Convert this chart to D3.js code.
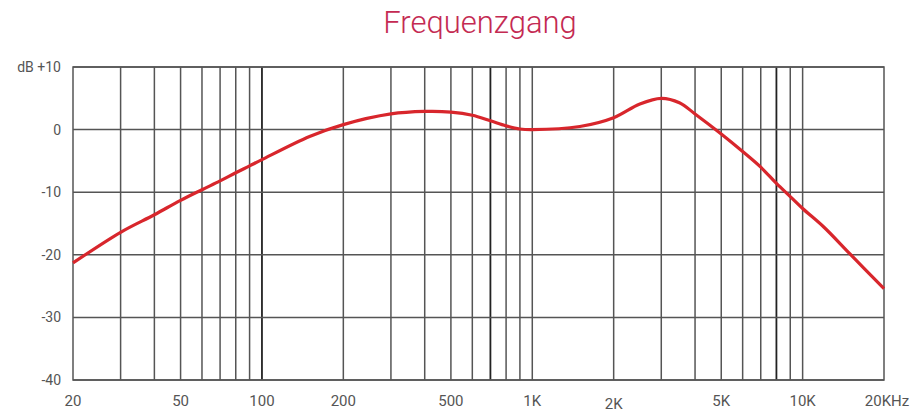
<!DOCTYPE html>
<html>
<head>
<meta charset="utf-8">
<script src="https://cdn.jsdelivr.net/npm/d3@7"></script>
<style>
  body { margin: 0; background: #fff; }
  svg { display: block; }
</style>
</head>
<body>
<div id="chart"></div>
<script>
// frequency response
var freqs = [20, 30, 40, 50, 60, 70, 80, 90, 100, 150, 200, 300, 400, 500, 600, 700, 800, 900, 1000,
  1500, 2000, 2500, 3000, 3500, 4000, 5000, 6000, 7000, 8000, 9000, 10000, 12000, 15000, 20000];
var gains = [-21.3, -16.4, -13.6, -11.3, -9.6, -8.2, -6.9, -5.8, -4.8, -1.1, 0.8, 2.5, 2.9, 2.8, 2.3, 1.4, 0.6, 0.1, 0,
  0.5, 1.9, 4.1, 5.0, 4.3, 2.5, -0.7, -3.5, -6.0, -8.6, -10.7, -12.6, -15.6, -19.9, -25.4];

var gridFreqs = [30, 40, 50, 60, 70, 80, 90, 100, 200, 300, 400, 500, 600, 700, 800, 900, 1000,
  2000, 3000, 4000, 5000, 6000, 7000, 8000, 9000, 10000];
var darkFreqs = [100, 700, 8000];
var dbTicks = [10, 0, -10, -20, -30, -40];
var dbLabels = ["dB +10", "0", "-10", "-20", "-30", "-40"];
var freqTicks = [20, 50, 100, 200, 500, 1000, 2000, 5000, 10000, 20000];
var freqLabels = ["20", "50", "100", "200", "500", "1K", "2K", "5K", "10K", "20KHz"];

var svgWidth = 912, svgHeight = 412;
var margin = { top: 67, bottom: 32, right: 28, left: 73 };

var svg = d3.select("#chart").append("svg")
  .attr("width", svgWidth)
  .attr("height", svgHeight);

var x = d3.scaleLog()
  .domain([20, 20000])
  .range([margin.left, svgWidth - margin.right]);

var y = d3.scaleLinear()
  .domain([-40, 10])
  .range([svgHeight - margin.bottom, margin.top]);

// title
svg.append("text")
  .attr("x", 480)
  .attr("y", 33)
  .attr("text-anchor", "middle")
  .attr("font-family", "Roboto, sans-serif")
  .attr("font-weight", 300)
  .attr("font-size", "31px")
  .attr("fill", "#c42a52")
  .text("Frequenzgang");

// vertical grid
svg.append("g").selectAll("line")
  .data(gridFreqs)
  .enter()
  .append("line")
  .attr("x1", d => x(d))
  .attr("x2", d => x(d))
  .attr("y1", y(10))
  .attr("y2", y(-40))
  .attr("stroke", d => darkFreqs.indexOf(d) >= 0 ? "#222" : "#555")
  .attr("stroke-width", d => darkFreqs.indexOf(d) >= 0 ? 1.8 : 1.5);

// horizontal grid
svg.append("g").selectAll("line")
  .data(dbTicks)
  .enter()
  .append("line")
  .attr("x1", x(20))
  .attr("x2", x(20000))
  .attr("y1", d => y(d))
  .attr("y2", d => y(d))
  .attr("stroke", "#555")
  .attr("stroke-width", 1.5);

// frame
svg.append("rect")
  .attr("x", x(20))
  .attr("y", y(10))
  .attr("width", x(20000) - x(20))
  .attr("height", y(-40) - y(10))
  .attr("fill", "none")
  .attr("stroke", "#555")
  .attr("stroke-width", 1.5);

// y labels
svg.append("g").selectAll("text")
  .data(dbTicks)
  .enter()
  .append("text")
  .attr("x", 61)
  .attr("y", d => y(d) + 5)
  .attr("text-anchor", "end")
  .attr("font-family", "Roboto, sans-serif")
  .attr("font-size", "14px")
  .attr("fill", "#555")
  .text((d, i) => dbLabels[i]);

// x labels
svg.append("g").selectAll("text")
  .data(freqTicks)
  .enter()
  .append("text")
  .attr("x", d => d == 20000 ? x(d) + 3 : x(d))
  .attr("y", d => d == 2000 ? 409 : 406)
  .attr("text-anchor", "middle")
  .attr("font-family", "Roboto, sans-serif")
  .attr("font-size", "15px")
  .attr("fill", "#555")
  .text((d, i) => freqLabels[i]);

// response curve
var line = d3.line()
  .x((d, i) => x(freqs[i]))
  .y(d => y(d))
  .curve(d3.curveCatmullRom.alpha(0.5));

svg.append("path")
  .datum(gains)
  .attr("d", line)
  .attr("fill", "none")
  .attr("stroke", "#d8262c")
  .attr("stroke-width", 3.2);
</script>
</body>
</html>
